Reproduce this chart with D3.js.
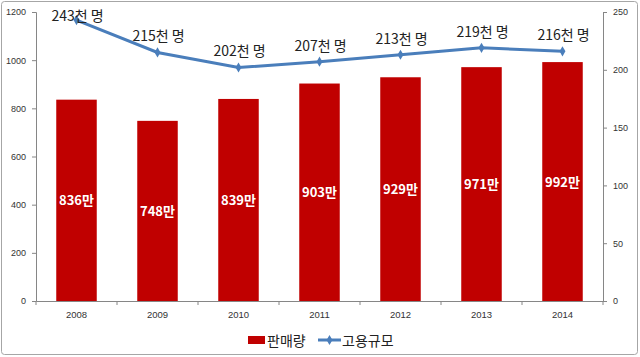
<!DOCTYPE html>
<html><head><meta charset="utf-8">
<script src="https://cdn.jsdelivr.net/npm/d3@7"></script>
<style>body{margin:0;background:#fff;font-family:"Malgun Gothic","Noto Sans CJK KR",sans-serif}</style>
</head><body><svg id="c" width="640" height="357"></svg>
<script>
const years = ["2008","2009","2010","2011","2012","2013","2014"];
const sales = [836,748,839,903,929,971,992];
const employment = [243,215,202,207,213,219,216];
const leftTicks = [0,200,400,600,800,1000,1200];
const rightTicks = [0,50,100,150,200,250];
const salesName = "판매량", empName = "고용규모";

const svg = d3.select("#c");
svg.append("rect").attr("x",1.5).attr("y",1.5).attr("width",636).attr("height",353).attr("rx",3)
  .attr("fill","#fff").attr("stroke","#a6a6a6");
const m = {l:36, r:603, t:12, b:301};
const x = d3.scaleBand().domain(years).range([m.l,m.r]).paddingInner(0.5).paddingOuter(0.25);
const xb = d3.scaleBand().domain(years).range([m.l,m.r]);
const yL = d3.scaleLinear().domain([0,1200]).range([m.b,m.t]);
const yR = d3.scaleLinear().domain([0,250]).range([m.b,m.t]);
const font = '"Malgun Gothic","Noto Sans CJK KR",sans-serif';

// bars
svg.selectAll("rect.bar").data(sales).join("rect").attr("class","bar")
  .attr("x",(d,i)=>x(years[i])).attr("width",x.bandwidth())
  .attr("y",d=>yL(d)).attr("height",d=>m.b-yL(d)).attr("fill","#c00000");
svg.selectAll("text.bl").data(sales).join("text").attr("class","bl")
  .attr("x",(d,i)=>x(years[i])+x.bandwidth()/2).attr("y",d=>(yL(d)+m.b)/2+5)
  .attr("text-anchor","middle").attr("fill","#fff").attr("font-weight","bold")
  .attr("font-size",13).attr("font-family",font).text(d=>d+"만");

// axes
const axL = svg.append("g").attr("transform",`translate(${m.l},0)`)
  .call(d3.axisLeft(yL).tickValues(leftTicks).tickFormat(d3.format("d")).tickSize(4).tickPadding(6));
const axR = svg.append("g").attr("transform",`translate(${m.r},0)`)
  .call(d3.axisRight(yR).tickValues(rightTicks).tickFormat(d3.format("d")).tickSize(4).tickPadding(6));
const axB = svg.append("g").attr("transform",`translate(0,${m.b})`)
  .call(d3.axisBottom(xb).tickSize(0).tickPadding(10));
axB.selectAll(".tick").append("line").attr("x1",-xb.bandwidth()/2).attr("x2",-xb.bandwidth()/2).attr("y2",4).attr("stroke","#868686");
axB.append("line").attr("x1",m.r).attr("x2",m.r).attr("y2",4).attr("stroke","#868686");
[axL,axR,axB].forEach(a=>{
  a.selectAll("path.domain").attr("stroke","#868686");
  a.selectAll(".tick line").attr("stroke","#868686");
  a.selectAll("text").attr("font-size",9).attr("fill","#333").attr("font-family","Arial, 'Liberation Sans', sans-serif");
});
axB.selectAll("text").attr("font-size",9.5);

// line
const cx = (i)=>x(years[i])+x.bandwidth()/2;
svg.append("path").datum(employment)
  .attr("d",d3.line().x((d,i)=>cx(i)).y(d=>yR(d)))
  .attr("fill","none").attr("stroke","#4a7ebb").attr("stroke-width",3);
svg.selectAll("path.mk").data(employment).join("path").attr("class","mk")
  .attr("d",d3.symbol(d3.symbolDiamond,30))
  .attr("transform",(d,i)=>`translate(${cx(i)},${yR(d)})`).attr("fill","#4a7ebb");
svg.selectAll("text.ll").data(employment).join("text").attr("class","ll")
  .attr("x",(d,i)=>cx(i)+1).attr("y",d=>Math.max(21, yR(d)-11))
  .attr("text-anchor","middle").attr("fill","#222").attr("font-size",14)
  .attr("font-family",font).text(d=>d+"천 명");

// legend
const lg = svg.append("g");
lg.append("rect").attr("x",248).attr("y",336).attr("width",17).attr("height",8).attr("fill","#c00000");
lg.append("text").attr("x",267).attr("y",346).attr("font-size",14).attr("font-family",font).attr("fill","#222").text(salesName);
lg.append("line").attr("x1",318).attr("x2",341).attr("y1",340).attr("y2",340).attr("stroke","#4a7ebb").attr("stroke-width",3);
lg.append("path").attr("d",d3.symbol(d3.symbolDiamond,30)).attr("transform","translate(329.5,340)").attr("fill","#4a7ebb");
lg.append("text").attr("x",342).attr("y",346).attr("font-size",14).attr("font-family",font).attr("fill","#222").text(empName);
</script></body></html>
